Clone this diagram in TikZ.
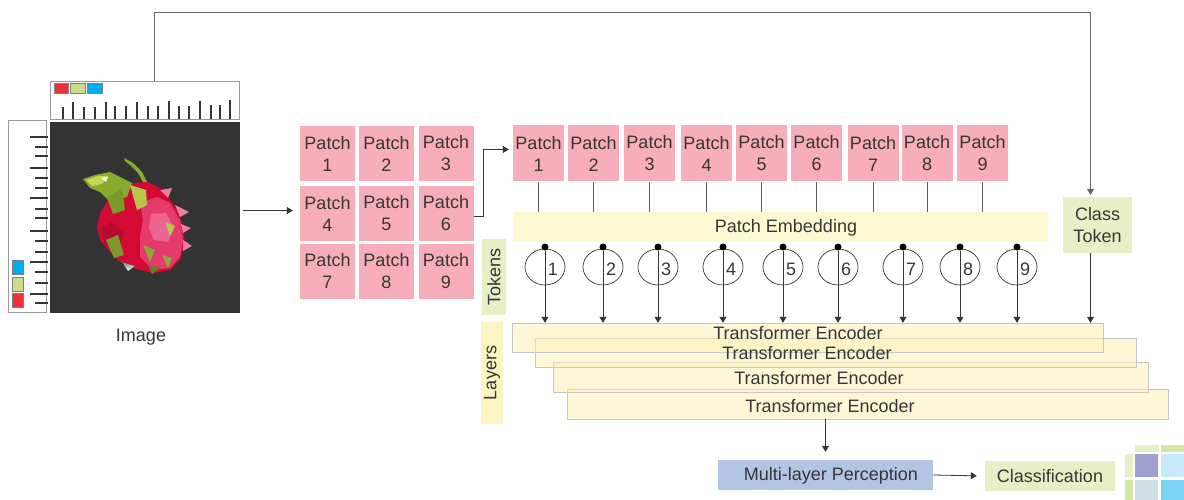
\documentclass[tikz,border=0pt]{standalone}
\usepackage{fontspec}
\setmainfont{Liberation Sans}
\usetikzlibrary{arrows.meta,shapes.geometric}

\definecolor{txt}{HTML}{363636}
\definecolor{patchpink}{HTML}{F7AEBA}
\definecolor{embyellow}{HTML}{FDF9D3}
\definecolor{encyellow}{HTML}{FBF0B2}
\definecolor{laygold}{HTML}{FCF5C2}
\definecolor{tokgreen}{HTML}{E6F0C7}
\definecolor{mlpblue}{HTML}{B3C5E4}
\definecolor{imgbg}{HTML}{333333}
\definecolor{rulered}{HTML}{EE2F3C}
\definecolor{rulegreen}{HTML}{CCDC8B}
\definecolor{ruleblue}{HTML}{00AEEF}
% fruit colours
\definecolor{skinred}{HTML}{D50A34}
\definecolor{skindark}{HTML}{B80A2E}
\definecolor{skinpink}{HTML}{E43A6C}
\definecolor{skinlight}{HTML}{EC6490}
\definecolor{spike}{HTML}{EE7FA2}
\definecolor{leaf}{HTML}{8AAA2E}
\definecolor{leaflight}{HTML}{C8D850}
\definecolor{olive}{HTML}{7B9A2A}
\definecolor{lime}{HTML}{B5C84A}
\definecolor{moss}{HTML}{8BA835}
\definecolor{darkolive}{HTML}{6F7A2A}
\definecolor{shade}{HTML}{4A1A1A}
% class icon colours
\definecolor{icgreen}{HTML}{D3E6A2}
\definecolor{icpurple}{HTML}{A0A0CF}
\definecolor{icsky}{HTML}{C8E9F9}
\definecolor{icgrey}{HTML}{D0DEE6}
\definecolor{icblue}{HTML}{7DD3F5}

\tikzset{
  patch/.style={fill=patchpink, minimum width=51pt, minimum height=56pt,
    inner sep=0pt, align=center, text=txt},
  gridpatch/.style={patch, minimum width=55pt, minimum height=55pt},
  flat/.style={inner sep=0pt, align=center, text=txt},
  arr/.style={draw=txt, line width=0.8pt, -{Triangle[length=6pt,width=7pt]}},
  wire/.style={draw=txt!80, line width=0.7pt},
  tick/.style={draw=txt, line width=1.1pt},
  enc/.style={draw=black!22, fill=encyellow, fill opacity=0.5,
    inner sep=0pt},
  tokcirc/.style={ellipse, draw=txt, line width=0.7pt, minimum width=40pt,
    minimum height=36pt, inner sep=0pt},
  dot/.style={circle, fill=black, inner sep=0pt, minimum size=7pt},
}

\begin{document}
\begin{tikzpicture}[x=1pt, y=-1pt, font=\fontsize{18}{22}\selectfont]
\useasboundingbox (0,0) rectangle (1184,500);

% input image with its two rulers
\node[fill=imgbg, minimum width=190pt, minimum height=191pt, inner sep=0pt] (img) at (145,217.5) {};
\node[draw=black!40, fill=white, minimum width=189pt, minimum height=38pt, inner sep=0pt] (topruler) at (144.5,100) {};
\node[draw=black!40, fill=white, minimum width=38pt, minimum height=192pt, inner sep=0pt] (sideruler) at (27,216) {};
\foreach \x/\t in {63/107,73/102,84/107,95/107,106/102,115/106,126/106,137/102,148/106,
    158/106,169/101,179/106,189/106,200/101,211/105,220/105,230/100}
  \draw[tick] (\x,\t) -- (\x,119);
\foreach \y/\l in {137/30,147/35,156/35,168/30,178/35,188/35,198/30,209/35,218/35,
    231/30,241/35,252/35,262/30,272/35,283/35,294/30,303/35}
  \draw[tick] (\l,\y) -- (48,\y);
\filldraw[fill=rulered, draw=black!50] (54,83) rectangle (68,93);
\filldraw[fill=rulegreen, draw=black!50] (70,83) rectangle (85,93);
\filldraw[fill=ruleblue, draw=black!50] (87,83) rectangle (102,93);
\filldraw[fill=ruleblue, draw=black!50] (12,260) rectangle (23,274);
\filldraw[fill=rulegreen, draw=black!50] (12,277) rectangle (23,291);
\filldraw[fill=rulered, draw=black!50] (12,293) rectangle (23,307);

% dragon fruit
\fill[skinred] (97,227) -- (100,213) -- (107,202) -- (120,190) -- (133,183) -- (147,182)
  -- (160,188) -- (168,197) -- (177,210) -- (182,223) -- (185,243) -- (180,260) -- (170,270)
  -- (153,273) -- (133,268) -- (120,262) -- (110,252) -- (100,240) -- cycle;
\fill[skindark] (100,228) -- (112,222) -- (124,232) -- (118,250) -- (106,246) -- cycle;
\fill[skinpink] (140,203) -- (157,197) -- (170,203) -- (180,220) -- (183,240) -- (180,257)
  -- (170,268) -- (153,270) -- (140,257) -- (140,237) -- (143,220) -- cycle;
\fill[skinlight] (151,214) -- (166,213) -- (174,228) -- (168,242) -- (154,240) -- (149,228) -- cycle;
\fill[spike] (160,190) -- (172,188) -- (168,198) -- cycle;
\fill[spike] (175,205) -- (189,212) -- (180,217) -- cycle;
\fill[spike] (181,224) -- (191,228) -- (183,233) -- cycle;
\fill[spike] (183,240) -- (192,246) -- (183,251) -- cycle;
\fill[leaf] (83,179) -- (95,175) -- (110,172) -- (120,177) -- (132,183) -- (127,197)
  -- (110,202) -- (100,192) -- (90,188) -- cycle;
\fill[leaflight] (86,180) -- (98,176) -- (108,176) -- (102,184) -- (92,186) -- cycle;
\fill[white] (101,178) -- (108,177) -- (106,182) -- cycle;
\fill[leaf] (124,158) -- (133,163) -- (142,172) -- (147,182) -- (143,182) -- (138,173)
  -- (130,165) -- (125,161) -- cycle;
\fill[olive] (107,198) -- (122,188) -- (125,210) -- (113,214) -- cycle;
\fill[lime] (130,185) -- (146,190) -- (147,205) -- (137,210) -- cycle;
\fill[olive] (106,240) -- (118,235) -- (124,255) -- (114,258) -- cycle;
\fill[moss] (143,245) -- (155,250) -- (150,262) -- cycle;
\fill[moss] (162,255) -- (172,258) -- (168,268) -- cycle;
\fill[lime] (165,222) -- (175,226) -- (170,236) -- cycle;
\fill[darkolive] (148,265) -- (160,268) -- (152,274) -- cycle;
\fill[shade] (122,262) -- (135,266) -- (128,271) -- cycle;

\node[flat] (imglab) at (141,337) {Image};

% 3x3 patch grid
\node[gridpatch] (g1) at (327.5,153.5) {Patch\\1};
\node[gridpatch] (g2) at (386.5,153.5) {Patch\\2};
\node[gridpatch] (g3) at (446,153.5) {Patch\\3};
\node[gridpatch] (g4) at (327.5,213.5) {Patch\\4};
\node[gridpatch] (g5) at (386.5,213.5) {Patch\\5};
\node[gridpatch] (g6) at (446,213.5) {Patch\\6};
\node[gridpatch] (g7) at (327.5,271) {Patch\\7};
\node[gridpatch] (g8) at (386.5,271) {Patch\\8};
\node[gridpatch] (g9) at (446,271) {Patch\\9};

% flattened patches
\foreach \x [count=\i] in {538.5,593.5,649.5,706.5,761.5,816.5,873,927,982.5}
  \node[patch] (t\i) at (\x,153.5) {Patch\\\i};

\node[flat, fill=embyellow, minimum width=535pt, minimum height=30pt] (emb) at (780.5,227) {};
\node[flat] (embtext) at (786,228) {Patch Embedding};
\node[flat, fill=tokgreen, minimum width=69pt, minimum height=56pt] (cls) at (1097.5,225) {Class\\Token};
\node[flat, fill=tokgreen, minimum width=76pt, minimum height=24pt, rotate=90] (toklab) at (494,277) {Tokens};
\node[flat, fill=laygold, minimum width=102pt, minimum height=22pt, rotate=90] (laylab) at (492,373) {Layers};

% encoder stack
\node[enc, minimum width=601pt, minimum height=30pt] (enc4) at (867.5,404) {};
\node[enc, minimum width=595pt, minimum height=30pt] (enc3) at (850.5,377) {};
\node[enc, minimum width=601pt, minimum height=29pt] (enc2) at (835.5,352.5) {};
\node[enc, minimum width=591pt, minimum height=29pt] (enc1) at (807.5,337.5) {};
\node[flat] (e1text) at (798,333) {Transformer Encoder};
\node[flat] (e2text) at (807,353) {Transformer Encoder};
\node[flat] (e3text) at (819,378) {Transformer Encoder};
\node[flat] (e4text) at (830,406) {Transformer Encoder};

\node[flat, fill=mlpblue, minimum width=215pt, minimum height=30pt] (mlp) at (825.5,475) {};
\node[flat] (mlptext) at (831,476) {Multi-layer Perception};
\node[flat, fill=tokgreen, minimum width=130pt, minimum height=30pt] (cl) at (1050,476) {Classification};

% class icon
\fill[tokgreen] (1135,445) rectangle (1159,452);
\fill[icgreen] (1161,445) rectangle (1184,452);
\fill[tokgreen] (1125,454) rectangle (1133,477);
\fill[icgreen] (1125,480) rectangle (1133,500);
\fill[icpurple] (1135,454) rectangle (1158,477);
\fill[icsky] (1161,454) rectangle (1184,477);
\fill[icgrey] (1135,480) rectangle (1158,500);
\fill[icblue] (1161,480) rectangle (1184,500);

% tokens
\foreach \x [count=\i] in {545,603,658,723,783,838,903,960,1017} {
  \node[tokcirc] (k\i) at (\x,267) {};
  \node[flat] (n\i) at (\x+8,269) {\i};
  \node[dot] (d\i) at (\x,247) {};
  \draw[arr] (d\i) -- (d\i |- enc1.north);
}
\foreach \i in {1,...,9}
  \draw[wire] (t\i.south) -- (t\i.south |- emb.north);

% connectors
\coordinate (tap) at (154,81);
\draw[wire, draw=black!60, -{Triangle[length=6pt,width=7pt]}] (tap) -- ++(0,-69) -| ([xshift=-7pt, yshift=2pt]cls.north);
\draw[arr, shorten <=3pt, shorten >=7pt] ([yshift=7pt]img.east) -- ([yshift=7pt]img.east -| g4.west);
\draw[arr, shorten >=4pt] ([yshift=-3pt]g6.east) -- ++(10,0) |- ([yshift=4pt]t1.west);
\draw[arr] ([xshift=-7pt]cls.south) -- ([xshift=-7pt]cls.south |- enc1.north);
\draw[arr, shorten >=8pt] (mlp.north |- enc4.south) -- (mlp.north);
\draw[arr, shorten >=8pt] (mlp.east) -- (cl.west);
\end{tikzpicture}
\end{document}
